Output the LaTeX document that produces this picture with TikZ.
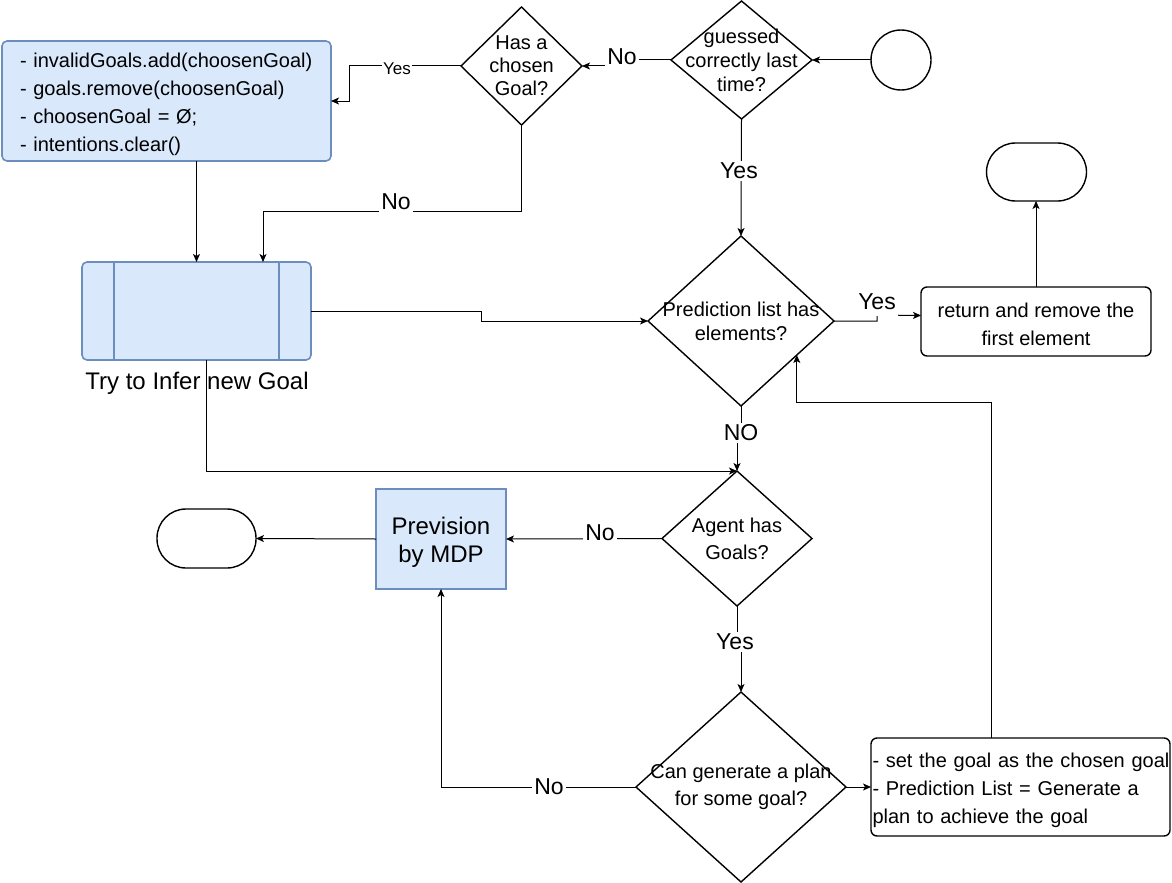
\documentclass[tikz,border=0pt]{standalone}
\usepackage{fontspec}
\setmainfont{Liberation Sans}
\usetikzlibrary{shapes.geometric,arrows.meta,calc}

\definecolor{boxfill}{HTML}{DAE8FC}
\definecolor{boxline}{HTML}{6C8EBF}

\begin{document}
\begin{tikzpicture}[x=1pt,y=-1pt,
  every node/.style={inner sep=0pt, outer sep=0pt, font=\fontsize{20}{24}\selectfont},
  conn/.style={line width=1pt, draw=black},
  arr/.style={conn, -{Stealth[length=8pt,width=7pt,inset=2pt]}},
  decision/.style={diamond, draw=black, line width=1.4pt, fill=white},
  dtext/.style={align=center, font=\fontsize{20}{#1}\selectfont},
  dtext/.default=24,
  btext/.style={align=#1, font=\fontsize{20}{28}\selectfont, yshift=-3pt},
  btext/.default=center,
  bluebox/.style={rectangle, rounded corners=5pt, draw=boxline, fill=boxfill, line width=1.6pt},
  plainbox/.style={rectangle, rounded corners=6pt, draw=black, line width=1.4pt, fill=white},
  terminal/.style={rectangle, rounded corners=29pt, draw=black, line width=1.4pt,
    minimum width=100pt, minimum height=58pt},
  elab/.style={fill=white, inner sep=2pt, font=\fontsize{23}{26}\selectfont},
  slab/.style={fill=white, inner sep=1.5pt, font=\fontsize{17}{20}\selectfont}
]
\useasboundingbox (0,0) rectangle (1172,883);
\fill[white] (0,0) rectangle (1172,883);

% ---- shapes ----
\node[bluebox, minimum width=329pt, minimum height=120pt,
      label={[btext=left, text width=293pt]center:{- invalidGoals.add(choosenGoal)\\- goals.remove(choosenGoal)\\- choosenGoal = Ø;\\- intentions.clear()}}]
  (reset) at (166.5,101) {};

\node[decision, minimum width=121pt, minimum height=118pt,
      label={[dtext=23]center:{Has a\\chosen\\Goal?}}] (chosen) at (521.5,66) {};

\node[decision, minimum width=141pt, minimum height=118pt,
      label={[dtext=24]center:{guessed\\correctly last\\time?}}] (guess) at (741.5,60) {};

\node[circle, draw=black, line width=1.4pt, minimum size=60pt] (start) at (901,60) {};

\node[terminal] (endtop) at (1036.5,172) {};

\node[plainbox, minimum width=230pt, minimum height=69pt,
      label={[btext]center:{return and remove the\\first element}}] (ret) at (1036,321.5) {};

\node[decision, minimum width=186pt, minimum height=170pt,
      label={[dtext=24]center:{Prediction list has\\elements?}}] (pred) at (741,321) {};

% predefined process box with its two inner rules
\node[bluebox, minimum width=229pt, minimum height=98pt] (infer) at (196.5,311) {};
\draw[boxline, line width=1.6pt] ([xshift=32pt]infer.north west) -- ([xshift=32pt]infer.south west);
\draw[boxline, line width=1.6pt] ([xshift=-32pt]infer.north east) -- ([xshift=-32pt]infer.south east);
\node[font=\fontsize{24}{28}\selectfont] (infertxt) at (197,383) {Try to Infer new Goal};

\node[decision, minimum width=150pt, minimum height=135pt,
      label={[dtext=27]center:{Agent has\\Goals?}}] (agent) at (737,538.5) {};

\node[rectangle, draw=boxline, fill=boxfill, line width=1.6pt,
      minimum width=130pt, minimum height=100pt,
      label={[btext, font=\fontsize{24}{28}\selectfont]center:{Prevision\\by MDP}}] (mdp) at (441,539) {};

\node[terminal, minimum width=99pt, minimum height=59pt] (endleft) at (206.5,538.5) {};

\node[decision, minimum width=210pt, minimum height=190pt,
      label={[dtext=27]center:{Can generate a plan\\for some goal?}}] (plan) at (741,787) {};

\node[plainbox, minimum width=299pt, minimum height=98pt,
      label={[btext=left, text width=297pt, xshift=0.5pt]center:{- set the goal as the chosen goal\\- Prediction List = Generate a\\plan to achieve the goal}}]
  (setgoal) at (1020.5,787) {};

% ---- connectors ----
\draw[arr] (start.west) -- (guess.east);

\draw[arr] (guess.west) -- (622,60) -- (622,66) -- (chosen.east);
\node[elab] (lno1) at (622,57) {No};

\draw[arr] (chosen.west) -| ([xshift=18pt]reset.east) -- (reset.east);
\node[slab] (lyes1) at (397,69) {Yes};

\draw[arr] (chosen.south) -- ++(0,86) -| ([xshift=66.5pt]infer.north);
\node[elab] (lno2) at (396,202) {No};

\draw[arr] (infer.north |- reset.south) -- (infer.north);

\draw[arr] (guess.south) -- (pred.north);
\node[elab] (lyes2) at (739,171) {Yes};

\draw[arr] (infer.east) -- ++(170,0) |- (pred.west);

\draw[arr] ([xshift=9.5pt]infer.south) |- (agent.north);

\draw[arr] (pred.south) -- (741,433) -| (agent.north);
\node[elab] (lno3) at (741,433) {NO};

\draw[arr] (pred.east) -- ++(43,0) -- ++(0,-6) -- ([yshift=6pt]ret.west);
\node[elab, inner ysep=6pt] (lyes3) at (877,302) {Yes};

\draw[arr] (ret.north) -- (endtop.south -| ret.north);

\draw[arr] (agent.west) -- (mdp.east);
\node[elab] (lno4) at (600,533) {No};

\draw[arr] (mdp.west) -- (endleft.east);

\draw[arr] (agent.south) -- (737,642) -| (plan.north);
\node[elab] (lyes4) at (735,642) {Yes};

\draw[arr] (plan.west) -| (mdp.south);
\node[elab] (lno5) at (549,787) {No};

\draw[arr] (plan.east) -- (setgoal.west);

\coordinate (predhit) at ($(pred.east)!0.4!(pred.south)$);
\draw[arr] ([xshift=-29.5pt]setgoal.north) |- ($(predhit)+(0,47)$) -- (predhit);
\end{tikzpicture}
\end{document}
